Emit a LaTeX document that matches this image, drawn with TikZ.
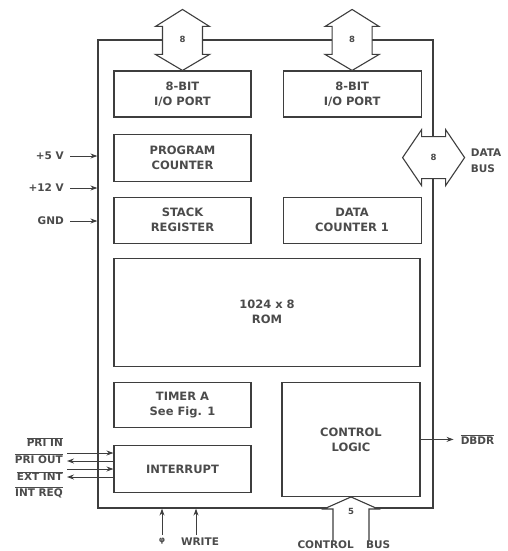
\documentclass[tikz,border=0pt]{standalone}
\usepackage{fontspec}
\setmainfont{DejaVu Sans}
\usetikzlibrary{positioning,arrows.meta,calc}
\definecolor{InkGray}{RGB}{62,62,62}
\definecolor{TextGray}{RGB}{75,75,75}
\tikzset{
  chipline/.style={draw=InkGray,line width=1.2pt,inner sep=0pt},
  block/.style={draw=InkGray,line width=1.1pt,minimum width=137pt,
    minimum height=46pt,inner sep=0pt,align=center,text=TextGray,
    font=\fontsize{11.5}{15}\selectfont\bfseries},
  busarrow/.style={draw=InkGray,fill=white,line width=1.1pt,line join=miter},
  buswidth/.style={font=\fontsize{8.5}{9}\selectfont\bfseries,text=TextGray,inner sep=0pt},
  sig/.style={-{Stealth[length=7pt,width=5pt]},draw=InkGray,line width=1pt},
  pinlbl/.style={font=\fontsize{10.5}{16}\selectfont\bfseries,text=TextGray,inner sep=0pt}
}
\newcommand{\lowact}[1]{$\overline{\mbox{#1}}$}

\begin{document}
\begin{tikzpicture}[x=1pt,y=-1pt]
  \useasboundingbox (0,0) rectangle (507,551);
  \node[chipline,minimum width=335pt,minimum height=468pt] (chip) at (265.5,274) {};

  % blocks inside the chip
  \node[block] (io1) at (182.5,94) {8-BIT\\I/O PORT};
  \node[block,minimum width=138pt,right=31pt of io1] (io2) {8-BIT\\I/O PORT};
  \node[block,minimum height=47pt,below=16pt of io1] (pc) {PROGRAM\\COUNTER};
  \node[block,below=15pt of pc] (stack) {STACK\\REGISTER};
  \node[block,minimum width=138pt,right=31pt of stack] (dc1) {DATA\\COUNTER 1};
  \node[block,minimum width=306pt,minimum height=108pt,
    below=14pt of stack.south west,anchor=north west] (rom) {1024 x 8\\ROM};
  \node[block,minimum height=45pt,below=15pt of rom.south west,anchor=north west] (timer) {TIMER A\\See Fig. 1};
  \node[block,minimum height=47pt,below=17pt of timer] (intr) {INTERRUPT};
  \node[block,minimum width=138pt,minimum height=114pt,
    below=15pt of rom.south east,anchor=north east] (ctrl) {CONTROL\\LOGIC};

  % I/O port buses
  \foreach \port in {io1,io2}{
    \draw[busarrow] (\port.north) -- ++(-27,-16) -- ++(7,0) -- ++(0,-28) -- ++(-7,0)
      -- ++(27,-17) -- ++(27,17) -- ++(-7,0) -- ++(0,28) -- ++(7,0) -- cycle;
    \node[buswidth] (w\port) at (\port.north |- chip.north) {8};
  }

  % data bus
  \coordinate (dbus) at (chip.east |- pc);
  \draw[busarrow] ($(dbus)+(-31,0)$) -- ++(19,-28) -- ++(0,7) -- ++(24,0) -- ++(0,-7)
    -- ++(19,28) -- ++(-19,28) -- ++(0,-7) -- ++(-24,0) -- ++(0,7) -- cycle;
  \node[buswidth] (wdata) at (dbus) {8};
  \node[pinlbl,anchor=west,align=left] (dbuslbl) at ($(dbus)+(37,3)$) {DATA\\BUS};

  % control bus
  \draw[busarrow] ($(ctrl.south)+(18,44)$) -- ++(0,-32) -- ++(9,0) -- (ctrl.south)
    -- ++(-27,12) -- ++(9,0) -- ++(0,32);
  \node[buswidth] (wctrl) at ($(ctrl.south)+(0,15)$) {5};
  \node[pinlbl,anchor=east] (ctrllbl) at ($(ctrl.south)+(3,48)$) {CONTROL};
  \node[pinlbl,anchor=west] (buslbl) at ($(ctrl.south)+(15,48)$) {BUS};

  % power pins
  \node[pinlbl,anchor=east] (vfive) at (64,156) {+5 V};
  \node[pinlbl,anchor=east] (vtwelve) at (64,188) {+12 V};
  \node[pinlbl,anchor=east] (gnd) at (64,221) {GND};
  \foreach \pin in {vfive,vtwelve,gnd}
    \draw[sig] ($(\pin.east)+(6,0)$) -- (\pin -| chip.west);

  % interrupt lines
  \node[pinlbl,anchor=east] (priin) at (63,442) {\lowact{PRI IN}};
  \node[pinlbl,anchor=east] (priout) at (63,459) {\lowact{PRI OUT}};
  \node[pinlbl,anchor=east] (extint) at (63,476) {\lowact{EXT INT}};
  \node[pinlbl,anchor=east] (intreq) at (63,492) {\lowact{INT REQ}};
  \coordinate (ia) at (67,453);
  \coordinate (ib) at (67,461);
  \coordinate (ic) at (67,469);
  \coordinate (id) at (67,477);
  \draw[sig] (ia) -- (ia -| intr.west);
  \draw[sig] (ib -| intr.west) -- (ib);
  \draw[sig] (ic) -- (ic -| intr.west);
  \draw[sig] (id -| intr.west) -- (id);

  % clock and write
  \coordinate (phipin) at (162,535);
  \coordinate (wrpin) at (196,535);
  \draw[sig] (phipin) -- (phipin |- chip.south);
  \draw[sig] (wrpin) -- (wrpin |- chip.south);
  \node[pinlbl,anchor=north] (philbl) at ($(phipin)+(0,3)$) {\fontsize{8}{9}\selectfont φ};
  \node[pinlbl,anchor=north] (wrlbl) at ($(wrpin)+(4,3)$) {WRITE};

  % data bus driver
  \coordinate (dbdrpin) at ($(ctrl.east)+(33,0)$);
  \draw[sig] (ctrl.east) -- (dbdrpin);
  \node[pinlbl,anchor=west] (dbdr) at ($(ctrl.east)+(40,0)$) {\lowact{DBDR}};
\end{tikzpicture}
\end{document}
